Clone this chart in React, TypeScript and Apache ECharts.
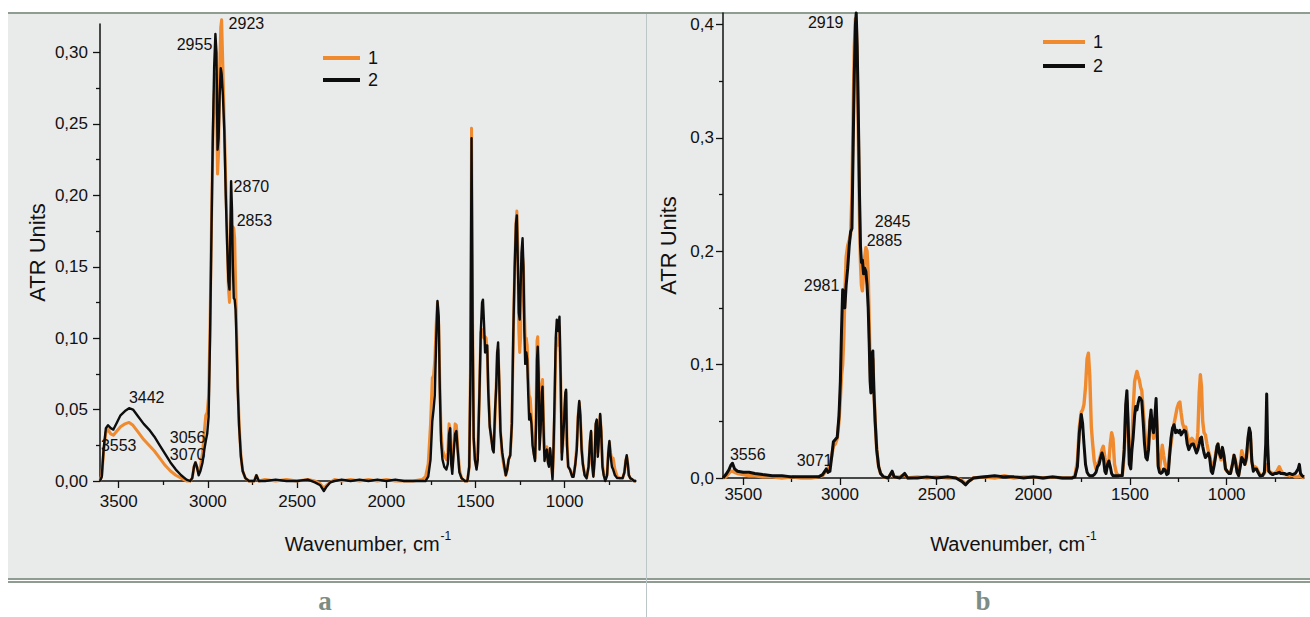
import React, { useEffect, useRef } from "react";
import * as echarts from "echarts";

// ---------- Data: panel a ----------
const wnA = [3605,3595,3585,3572,3560,3545,3530,3510,3490,3465,3442,3420,3390,3360,3330,3300,3270,3240,3210,3180,3150,3120,3100,3088,3078,3070,3062,3052,3042,3030,3020,3012,3004,2996,2988,2980,2972,2965,2958,2952,2946,2940,2934,2928,2923,2916,2908,2900,2892,2885,2879,2874,2870,2865,2860,2855,2850,2845,2840,2833,2825,2815,2805,2790,2770,2740,2728,2715,2680,2620,2560,2500,2440,2400,2370,2350,2335,2315,2290,2250,2200,2150,2100,2050,2000,1950,1900,1850,1800,1780,1765,1752,1742,1735,1728,1720,1713,1706,1700,1693,1685,1675,1663,1655,1648,1642,1636,1630,1622,1614,1607,1600,1590,1578,1560,1545,1535,1528,1522,1516,1510,1503,1494,1487,1478,1470,1463,1458,1452,1446,1440,1434,1428,1420,1412,1404,1398,1390,1384,1378,1373,1367,1360,1350,1340,1330,1322,1314,1305,1296,1288,1280,1273,1268,1262,1257,1252,1247,1242,1236,1231,1226,1221,1215,1210,1204,1199,1193,1186,1180,1172,1166,1160,1155,1151,1146,1141,1135,1128,1124,1119,1113,1106,1100,1094,1088,1082,1076,1068,1062,1056,1050,1044,1036,1029,1022,1016,1010,1004,996,992,987,980,970,958,950,940,932,925,918,912,905,898,888,877,866,858,852,846,839,832,826,820,814,808,801,795,788,781,772,762,755,749,743,735,728,718,705,690,675,665,658,652,646,640,632,620,610,600];
const absA1 = [0,0.004,0.02,0.034,0.036,0.033,0.032,0.035,0.038,0.040,0.041,0.039,0.034,0.029,0.025,0.021,0.016,0.011,0.007,0.004,0.002,0,0,0.002,0.010,0.013,0.010,0.006,0.010,0.020,0.035,0.046,0.048,0.060,0.110,0.180,0.240,0.270,0.285,0.265,0.215,0.230,0.290,0.318,0.323,0.290,0.250,0.210,0.170,0.135,0.125,0.150,0.170,0.178,0.178,0.177,0.170,0.140,0.110,0.070,0.040,0.018,0.007,0.002,0,0,0.004,0,0.001,0,0.001,0,0.001,0,-0.002,-0.005,-0.003,-0.001,0.001,0,0.001,0,0.001,0,0.001,0,0,0,0.001,0.003,0.012,0.040,0.072,0.074,0.085,0.110,0.125,0.110,0.070,0.035,0.022,0.018,0.015,0.020,0.040,0.036,0.015,0.010,0.025,0.040,0.039,0.025,0.008,0.002,0,0,0.010,0.080,0.247,0.110,0.030,0.015,0.010,0.020,0.060,0.104,0.106,0.102,0.100,0.101,0.100,0.090,0.065,0.040,0.030,0.025,0.022,0.045,0.065,0.090,0.092,0.070,0.035,0.018,0.010,0.004,0.008,0.015,0.018,0.040,0.100,0.150,0.180,0.189,0.160,0.105,0.090,0.100,0.140,0.157,0.150,0.120,0.100,0.100,0.095,0.072,0.060,0.058,0.045,0.030,0.020,0.016,0.050,0.098,0.101,0.080,0.030,0.040,0.068,0.071,0.045,0.018,0.020,0.024,0.015,0.012,0.022,0.018,0.003,0.020,0.050,0.090,0.100,0.095,0.108,0.070,0.020,0.025,0.045,0.060,0.062,0.030,0.010,0.008,0.004,0.004,0.012,0.025,0.045,0.055,0.045,0.025,0.012,0.005,0.002,0.010,0.025,0.034,0.012,0.004,0.015,0.038,0.042,0.020,0.030,0.046,0.035,0.012,0.005,0.001,0.005,0.020,0.027,0.020,0.015,0.016,0.008,0.003,0.002,0.002,0.006,0.014,0.017,0.012,0.004,0.002,0.001,0,0];
const absA2 = [0,0.003,0.022,0.037,0.039,0.037,0.036,0.041,0.046,0.049,0.051,0.050,0.045,0.040,0.036,0.031,0.025,0.019,0.013,0.008,0.004,0.001,0,0.002,0.010,0.013,0.010,0.004,0.007,0.013,0.022,0.028,0.033,0.045,0.100,0.175,0.245,0.290,0.313,0.300,0.232,0.240,0.270,0.289,0.285,0.270,0.245,0.200,0.165,0.140,0.134,0.180,0.210,0.190,0.150,0.128,0.127,0.120,0.100,0.065,0.038,0.017,0.007,0.002,0,0,0.004,0,0,0.001,0,0,0.001,-0.001,-0.003,-0.007,-0.004,-0.001,0,0.001,0,0.001,0,0.001,0,0.001,0,0,0,0,0.003,0.015,0.042,0.050,0.060,0.100,0.126,0.115,0.065,0.028,0.015,0.010,0.008,0.012,0.033,0.037,0.012,0.005,0.020,0.033,0.035,0.022,0.006,0.002,0,0,0.010,0.075,0.240,0.110,0.030,0.015,0.008,0.015,0.060,0.105,0.125,0.127,0.110,0.090,0.095,0.095,0.062,0.038,0.031,0.022,0.020,0.050,0.065,0.090,0.097,0.070,0.035,0.020,0.012,0.004,0.008,0.015,0.018,0.040,0.103,0.150,0.180,0.186,0.150,0.118,0.113,0.135,0.160,0.170,0.150,0.105,0.082,0.090,0.085,0.060,0.043,0.047,0.040,0.025,0.018,0.014,0.040,0.085,0.094,0.075,0.022,0.035,0.062,0.066,0.040,0.014,0.020,0.022,0.013,0.010,0.023,0.015,0.001,0.025,0.060,0.100,0.113,0.105,0.115,0.070,0.015,0.028,0.040,0.062,0.064,0.025,0.010,0.008,0.003,0.003,0.012,0.022,0.045,0.056,0.046,0.022,0.012,0.004,0.002,0.010,0.028,0.035,0.012,0.003,0.015,0.040,0.043,0.017,0.030,0.047,0.035,0.010,0.004,0,0.004,0.020,0.028,0.018,0.010,0.008,0.004,0.002,0.002,0.002,0.006,0.014,0.018,0.012,0.004,0.002,0.001,0,0];

// ---------- Data: panel b ----------
const wnB = [3605,3590,3575,3565,3556,3545,3530,3500,3470,3440,3400,3350,3300,3250,3200,3150,3110,3090,3078,3071,3062,3052,3042,3034,3024,3014,3005,2998,2992,2986,2980,2975,2968,2960,2952,2945,2938,2932,2926,2920,2916,2911,2905,2899,2894,2889,2884,2878,2872,2866,2860,2854,2849,2844,2840,2835,2830,2825,2818,2810,2800,2790,2775,2750,2730,2720,2690,2665,2650,2600,2550,2500,2440,2400,2370,2350,2335,2310,2250,2200,2150,2100,2050,2000,1950,1900,1850,1800,1785,1772,1762,1752,1745,1738,1730,1722,1715,1708,1700,1693,1685,1676,1668,1660,1652,1645,1638,1630,1624,1616,1609,1602,1595,1588,1580,1570,1555,1540,1530,1522,1516,1510,1503,1496,1490,1484,1476,1470,1464,1458,1451,1445,1439,1432,1425,1418,1411,1404,1397,1391,1385,1378,1371,1365,1360,1354,1347,1340,1333,1326,1318,1310,1302,1295,1288,1280,1272,1264,1256,1248,1242,1236,1228,1220,1212,1204,1196,1188,1180,1172,1164,1156,1149,1142,1136,1130,1124,1117,1110,1102,1095,1088,1080,1073,1066,1058,1050,1045,1038,1030,1022,1014,1006,998,988,980,970,962,955,946,938,930,922,915,906,898,890,883,877,870,862,854,846,838,828,815,805,798,793,788,782,772,762,752,740,728,720,710,700,690,675,660,645,630,624,618,610,600];
const absB1 = [0,0.001,0.004,0.006,0.006,0.005,0.004,0.003,0.002,0.002,0.001,0.001,0,0.001,0,0,0.001,0.002,0.005,0.007,0.008,0.012,0.020,0.028,0.030,0.035,0.050,0.070,0.090,0.100,0.125,0.160,0.195,0.205,0.210,0.215,0.250,0.320,0.380,0.405,0.400,0.370,0.300,0.230,0.190,0.170,0.165,0.180,0.195,0.203,0.200,0.180,0.140,0.100,0.080,0.100,0.105,0.080,0.050,0.025,0.010,0.004,0.001,0,0.005,0.001,0.001,0.003,0,0.001,0,0.001,0,0,-0.002,-0.005,-0.003,0,0.001,0,0.002,0,0.001,0.001,0,0.001,0,0,0.002,0.015,0.045,0.058,0.060,0.065,0.080,0.105,0.110,0.090,0.045,0.030,0.015,0.008,0.012,0.015,0.020,0.025,0.028,0.018,0.012,0.010,0.015,0.030,0.040,0.035,0.012,0.004,0.002,0.002,0.020,0.060,0.068,0.045,0.012,0.015,0.030,0.060,0.085,0.090,0.094,0.090,0.086,0.080,0.077,0.060,0.045,0.030,0.022,0.030,0.050,0.055,0.045,0.035,0.045,0.060,0.040,0.012,0.008,0.018,0.029,0.020,0.012,0.008,0.010,0.022,0.030,0.040,0.048,0.055,0.062,0.066,0.067,0.058,0.048,0.044,0.045,0.038,0.030,0.033,0.035,0.033,0.030,0.028,0.040,0.075,0.091,0.080,0.050,0.040,0.038,0.030,0.024,0.020,0.012,0.008,0.012,0.020,0.028,0.030,0.022,0.016,0.024,0.018,0.008,0.006,0.005,0.005,0.012,0.020,0.016,0.006,0.003,0.012,0.024,0.020,0.012,0.016,0.030,0.040,0.035,0.015,0.008,0.010,0.009,0.006,0.003,0.002,0.004,0.010,0.012,0.008,0.006,0.005,0.004,0.004,0.006,0.010,0.007,0.004,0.003,0.003,0.002,0.003,0.001,0.001,0.002,0.001,0.001,0];
const absB2 = [0,0.003,0.007,0.011,0.013,0.008,0.006,0.005,0.005,0.004,0.003,0.002,0.002,0.001,0.001,0.001,0.001,0.003,0.006,0.008,0.005,0.006,0.020,0.032,0.034,0.036,0.055,0.085,0.130,0.166,0.160,0.150,0.170,0.185,0.205,0.217,0.220,0.290,0.355,0.400,0.410,0.380,0.320,0.250,0.205,0.190,0.192,0.180,0.185,0.182,0.170,0.150,0.120,0.085,0.075,0.110,0.112,0.078,0.050,0.025,0.010,0.004,0.001,0,0.006,0.001,0,0.004,0,0,0.001,0,0.001,0,-0.003,-0.006,-0.003,0,0.001,0.002,0.001,0.001,0,0.001,0,0.001,0,0,0.001,0.010,0.040,0.056,0.048,0.030,0.012,0.005,0.003,0.002,0.002,0.002,0.003,0.005,0.010,0.012,0.018,0.022,0.018,0.006,0.004,0.012,0.015,0.010,0.004,0.002,0.002,0.002,0.002,0.002,0.025,0.065,0.077,0.050,0.012,0.008,0.025,0.035,0.055,0.063,0.060,0.066,0.071,0.070,0.068,0.050,0.030,0.018,0.016,0.025,0.050,0.060,0.045,0.040,0.055,0.070,0.045,0.010,0.005,0.004,0.005,0.008,0.007,0.003,0.004,0.020,0.035,0.044,0.047,0.040,0.042,0.040,0.042,0.038,0.040,0.042,0.041,0.030,0.025,0.028,0.030,0.030,0.026,0.022,0.025,0.030,0.035,0.036,0.028,0.022,0.018,0.020,0.022,0.018,0.006,0.004,0.010,0.018,0.028,0.030,0.022,0.018,0.027,0.020,0.008,0.006,0.004,0.004,0.012,0.020,0.015,0.005,0.002,0.010,0.018,0.016,0.012,0.018,0.035,0.044,0.040,0.015,0.006,0.008,0.008,0.005,0.002,0.002,0.005,0.030,0.074,0.030,0.006,0.004,0.003,0.004,0.004,0.005,0.004,0.004,0.004,0.003,0.004,0.003,0.004,0.008,0.012,0.004,0.002,0.001];

// ---------- Axis ticks / labels ----------
const xMajor = [3500, 3000, 2500, 2000, 1500, 1000];
const xMinor = [3250, 2750, 2250, 1750, 1250, 750];
const yMajorA = [0, 0.05, 0.1, 0.15, 0.2, 0.25, 0.3];
const yMinorA = [0.025, 0.075, 0.125, 0.175, 0.225, 0.275];
const yMajorB = [0, 0.1, 0.2, 0.3, 0.4];
const yMinorB = [0.05, 0.15, 0.25, 0.35];
const seriesNames = ["1", "2"];

// ---------- Peak annotations ----------
const annAText = ["2923", "2955", "2870", "2853", "3442", "3553", "3056", "3070"];
const annAX = [2884, 3175, 2856, 2839, 3443, 3600, 3214, 3214];
const annAY = [0.3204, 0.3057, 0.2061, 0.1823, 0.0582, 0.0252, 0.0308, 0.0189];
const annBText = ["2919", "2845", "2885", "2981", "3556", "3071"];
const annBX = [3166, 2820, 2862, 3187, 3569, 3223];
const annBY = [0.4018, 0.2264, 0.2097, 0.170, 0.0203, 0.015];

const FONT = '"Liberation Sans", Arial, sans-serif';
const ORANGE = "#ef8a2f";
const BLACK = "#0d0d0d";
const FRAME = "#8e9c92";
const TXT = "#111111";

const zip = (xs: number[], ys: number[]) => xs.map((x, i) => [x, ys[i]]);
const fmt = (d: number) => (v: number) => v.toFixed(d).replace(".", ",");

function xAxes(gridIndex: number, labelMargin: number, nameGap: number) {
  return [
    {
      type: "value", gridIndex, min: 600, max: 3605, inverse: true, position: "bottom",
      splitLine: { show: false },
      axisLine: { show: true, onZero: false, lineStyle: { color: TXT, width: 1.5 } },
      axisTick: { show: true, customValues: xMajor, length: 7, lineStyle: { color: TXT, width: 1.3 } },
      axisLabel: { show: true, customValues: xMajor, margin: labelMargin, formatter: (v: number) => String(v), fontFamily: FONT, fontSize: 17, color: TXT },
      name: "{m|Wavenumber, cm}{s|-1}",
      nameLocation: "middle", nameGap,
      nameTextStyle: {
        rich: {
          m: { fontFamily: FONT, fontSize: 20, color: TXT, lineHeight: 24, verticalAlign: "bottom" },
          s: { fontFamily: FONT, fontSize: 12, color: TXT, lineHeight: 24, verticalAlign: "top", padding: [0, 0, 10, 1] },
        },
      },
    },
    {
      type: "value", gridIndex, min: 600, max: 3605, inverse: true, position: "bottom",
      splitLine: { show: false },
      axisLine: { show: false, onZero: false },
      axisTick: { show: true, customValues: xMinor, length: 4, lineStyle: { color: TXT, width: 1.3 } },
      axisLabel: { show: false },
    },
  ];
}

function yAxes(gridIndex: number, max: number, major: number[], minor: number[], dec: number, labelMargin: number, nameGap: number) {
  return [
    {
      type: "value", gridIndex, min: 0, max, position: "left",
      splitLine: { show: false },
      axisLine: { show: true, onZero: false, lineStyle: { color: TXT, width: 1.5 } },
      axisTick: { show: true, customValues: major, length: 7, lineStyle: { color: TXT, width: 1.3 } },
      axisLabel: { show: true, customValues: major, margin: labelMargin, formatter: fmt(dec), fontFamily: FONT, fontSize: 17, color: TXT },
      name: "ATR Units", nameLocation: "middle", nameGap, nameRotate: 90,
      nameTextStyle: { fontFamily: FONT, fontSize: 22, color: TXT },
    },
    {
      type: "value", gridIndex, min: 0, max, position: "left",
      splitLine: { show: false },
      axisLine: { show: false, onZero: false },
      axisTick: { show: true, customValues: minor, length: 4, lineStyle: { color: TXT, width: 1.3 } },
      axisLabel: { show: false },
    },
  ];
}

function lineSeries(name: string, data: number[][], xi: number, yi: number, color: string, width: number, z: number) {
  return {
    type: "line", name, data, xAxisIndex: xi, yAxisIndex: yi,
    showSymbol: false, symbol: "none", clip: false, z,
    lineStyle: { color, width, join: "round" }, itemStyle: { color },
  };
}

function annSeries(texts: string[], xs: number[], ys: number[], xi: number, yi: number) {
  return {
    type: "scatter", xAxisIndex: xi, yAxisIndex: yi, symbolSize: 0, clip: false, z: 10, silent: true,
    itemStyle: { color: "transparent" },
    data: texts.map((t, i) => ({ value: [xs[i], ys[i]], name: t })),
    label: {
      show: true, position: [0, 0], align: "left", verticalAlign: "middle",
      formatter: (p: any) => p.name, fontFamily: FONT, fontSize: 16, color: TXT,
      textBorderWidth: 0, textBorderColor: "transparent", opacity: 1,
    },
  };
}

export default function App() {
  const ref = useRef<HTMLDivElement>(null);
  useEffect(() => {
    if (!ref.current) return;
    const chart = echarts.init(ref.current, null, { renderer: "svg" });
    chart.setOption({
      animation: false,
      backgroundColor: "#ffffff",
      graphic: [
        { type: "rect", z: -10, shape: { x: 8, y: 14, width: 1302, height: 564 }, style: { fill: "#e9eaea" }, silent: true },
        { type: "rect", z: -9, shape: { x: 8, y: 12, width: 1302, height: 2 }, style: { fill: FRAME } },
        { type: "rect", z: -9, shape: { x: 8, y: 578, width: 1302, height: 2 }, style: { fill: FRAME } },
        { type: "rect", z: -9, shape: { x: 8, y: 581, width: 1302, height: 2 }, style: { fill: FRAME } },
        { type: "line", z: -9, shape: { x1: 646.5, y1: 14, x2: 646.5, y2: 617 }, style: { stroke: "#bcc6c6", lineWidth: 1 } },
        { type: "text", style: { text: "a", x: 325, y: 601, align: "center", verticalAlign: "middle", font: 'bold 27px "Liberation Serif", "DejaVu Serif", serif', fill: "#7d8d83" } },
        { type: "text", style: { text: "b", x: 983, y: 601, align: "center", verticalAlign: "middle", font: 'bold 27px "Liberation Serif", "DejaVu Serif", serif', fill: "#7d8d83" } },
      ],
      grid: [
        { left: 100, top: 24, width: 536, height: 457, containLabel: false },
        { left: 723, top: 13, width: 581, height: 465, containLabel: false },
      ],
      legend: [
        {
          orient: "vertical", left: 318, top: 42, padding: 5, itemWidth: 37, itemHeight: 4, itemGap: 0, icon: "rect",
          data: seriesNames, selectedMode: false,
          textStyle: { fontFamily: FONT, fontSize: 18, color: TXT, lineHeight: 22, padding: [0, 0, 0, 3] },
        },
        {
          orient: "vertical", left: 1038, top: 26, padding: 5, itemWidth: 42, itemHeight: 4, itemGap: 2, icon: "rect",
          data: seriesNames, selectedMode: false,
          textStyle: { fontFamily: FONT, fontSize: 18, color: TXT, lineHeight: 22, padding: [0, 0, 0, 3] },
        },
      ],
      xAxis: [...xAxes(0, 12, 49), ...xAxes(1, 8, 52)],
      yAxis: [
        ...yAxes(0, 0.32, yMajorA, yMinorA, 2, 12, 52),
        ...yAxes(1, 0.41, yMajorB, yMinorB, 1, 9, 44),
      ],
      series: [
        lineSeries(seriesNames[0], zip(wnA, absA1), 0, 0, ORANGE, 3, 2),
        lineSeries(seriesNames[1], zip(wnA, absA2), 0, 0, BLACK, 2.4, 3),
        lineSeries(seriesNames[0], zip(wnB, absB1), 2, 2, ORANGE, 3.4, 2),
        lineSeries(seriesNames[1], zip(wnB, absB2), 2, 2, BLACK, 3, 3),
        annSeries(annAText, annAX, annAY, 0, 0),
        annSeries(annBText, annBX, annBY, 2, 2),
      ],
    });
    return () => chart.dispose();
  }, []);
  return <div ref={ref} style={{ position: "absolute", left: 0, top: 0, width: 1310, height: 617 }} />;
}
